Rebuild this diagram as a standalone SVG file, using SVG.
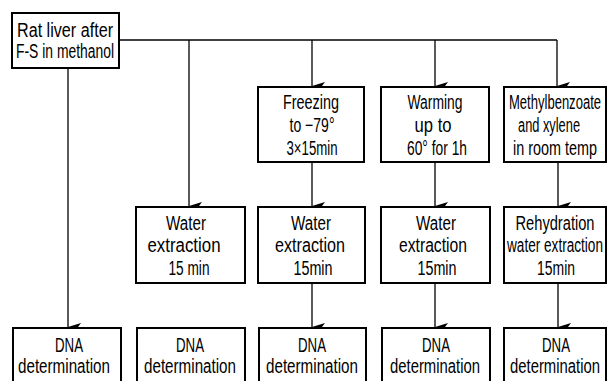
<svg xmlns="http://www.w3.org/2000/svg" width="612" height="381" viewBox="0 0 612 381">
<style>
.box{fill:#fff;stroke:#000;stroke-width:2}
.t{font-family:"Liberation Sans",Arial,sans-serif;font-size:20px;fill:#000;text-anchor:middle}
.c{fill:none;stroke:#000;stroke-width:1.3}
</style>
<defs>
<marker id="ah" markerUnits="userSpaceOnUse" markerWidth="10" markerHeight="14" refX="4" refY="13" orient="auto-start-reverse" viewBox="0 0 8 14">
<path d="M0,0 L4,13 L8,0 L4,3 Z" fill="#000"/>
</marker>
</defs>
<rect width="612" height="381" fill="#fff"/>
<g id="connectors">
<path class="c" d="M119,40 H557"/>
<path class="c" d="M68,68 V327" marker-end="url(#ah)"/>
<path class="c" d="M189,40 V206" marker-end="url(#ah)"/>
<path class="c" d="M312,40 V86" marker-end="url(#ah)"/>
<path class="c" d="M312,162 V206" marker-end="url(#ah)"/>
<path class="c" d="M312,283 V327" marker-end="url(#ah)"/>
<path class="c" d="M435,40 V86" marker-end="url(#ah)"/>
<path class="c" d="M435,162 V206" marker-end="url(#ah)"/>
<path class="c" d="M435,283 V327" marker-end="url(#ah)"/>
<path class="c" d="M557,40 V86" marker-end="url(#ah)"/>
<path class="c" d="M558,162 V206" marker-end="url(#ah)"/>
<path class="c" d="M558,283 V327" marker-end="url(#ah)"/>
</g>
<g id="rat">
<rect class="box" x="12" y="13" width="107" height="55"/>
<text class="t" transform="translate(65,37) scale(.68,1)" textLength="141.2" lengthAdjust="spacingAndGlyphs">Rat liver after</text>
<text class="t" transform="translate(65,58) scale(.68,1)" textLength="144.1" lengthAdjust="spacingAndGlyphs">F-S in methanol</text>
</g>
<g id="freezing">
<rect class="box" x="258" y="87" width="106" height="75"/>
<text class="t" transform="translate(311,109) scale(.68,1)" textLength="82.4" lengthAdjust="spacingAndGlyphs">Freezing</text>
<text class="t" transform="translate(312,132) scale(.68,1)" textLength="66.2" lengthAdjust="spacingAndGlyphs">to −79°</text>
<text class="t" transform="translate(312,155) scale(.68,1)" textLength="75" lengthAdjust="spacingAndGlyphs">3×15min</text>
</g>
<g id="warming">
<rect class="box" x="381" y="87" width="108" height="75"/>
<text class="t" transform="translate(435,109) scale(.68,1)" textLength="80.9" lengthAdjust="spacingAndGlyphs">Warming</text>
<text class="t" transform="translate(433,132) scale(.68,1)" textLength="54.4" lengthAdjust="spacingAndGlyphs">up to</text>
<text class="t" transform="translate(437,155) scale(.68,1)" textLength="88.2" lengthAdjust="spacingAndGlyphs">60° for 1h</text>
</g>
<g id="methyl">
<rect class="box" x="504" y="87" width="102" height="75"/>
<text class="t" transform="translate(555,109) scale(.68,1)" textLength="135.3" lengthAdjust="spacingAndGlyphs">Methylbenzoate</text>
<text class="t" transform="translate(549,132) scale(.68,1)" textLength="91.2" lengthAdjust="spacingAndGlyphs">and xylene</text>
<text class="t" transform="translate(555,155) scale(.68,1)" textLength="123.5" lengthAdjust="spacingAndGlyphs">in room temp</text>
</g>
<g id="water2">
<rect class="box" x="136" y="207" width="109" height="76"/>
<text class="t" transform="translate(186,230) scale(.68,1)" textLength="58.8" lengthAdjust="spacingAndGlyphs">Water</text>
<text class="t" transform="translate(184,252) scale(.68,1)" textLength="107.4" lengthAdjust="spacingAndGlyphs">extraction</text>
<text class="t" transform="translate(189,275) scale(.68,1)" textLength="60.3" lengthAdjust="spacingAndGlyphs">15 min</text>
</g>
<g id="water3">
<rect class="box" x="258" y="207" width="107" height="76"/>
<text class="t" transform="translate(311,230) scale(.68,1)" textLength="58.8" lengthAdjust="spacingAndGlyphs">Water</text>
<text class="t" transform="translate(310,252) scale(.68,1)" textLength="102.9" lengthAdjust="spacingAndGlyphs">extraction</text>
<text class="t" transform="translate(313,275) scale(.68,1)" textLength="57.4" lengthAdjust="spacingAndGlyphs">15min</text>
</g>
<g id="water4">
<rect class="box" x="381" y="207" width="109" height="76"/>
<text class="t" transform="translate(436,230) scale(.68,1)" textLength="58.8" lengthAdjust="spacingAndGlyphs">Water</text>
<text class="t" transform="translate(433,252) scale(.68,1)" textLength="100" lengthAdjust="spacingAndGlyphs">extraction</text>
<text class="t" transform="translate(437,275) scale(.68,1)" textLength="57.4" lengthAdjust="spacingAndGlyphs">15min</text>
</g>
<g id="rehydration">
<rect class="box" x="504" y="207" width="102" height="76"/>
<text class="t" transform="translate(555,230) scale(.68,1)" textLength="116.2" lengthAdjust="spacingAndGlyphs">Rehydration</text>
<text class="t" transform="translate(555,252) scale(.68,1)" textLength="141" lengthAdjust="spacingAndGlyphs">water extraction</text>
<text class="t" transform="translate(556,275) scale(.68,1)" textLength="55.9" lengthAdjust="spacingAndGlyphs">15min</text>
</g>
<g id="dna1">
<rect class="box" x="13" y="328" width="108" height="60"/>
<text class="t" transform="translate(69,352) scale(.68,1)" textLength="41.2" lengthAdjust="spacingAndGlyphs">DNA</text>
<text class="t" transform="translate(64,373) scale(.68,1)" textLength="135.3" lengthAdjust="spacingAndGlyphs">determination</text>
</g>
<g id="dna2">
<rect class="box" x="137" y="328" width="108" height="60"/>
<text class="t" transform="translate(190,352) scale(.68,1)" textLength="41.2" lengthAdjust="spacingAndGlyphs">DNA</text>
<text class="t" transform="translate(190,373) scale(.68,1)" textLength="135.3" lengthAdjust="spacingAndGlyphs">determination</text>
</g>
<g id="dna3">
<rect class="box" x="259" y="328" width="107" height="60"/>
<text class="t" transform="translate(312,352) scale(.68,1)" textLength="41.2" lengthAdjust="spacingAndGlyphs">DNA</text>
<text class="t" transform="translate(312,373) scale(.68,1)" textLength="135.3" lengthAdjust="spacingAndGlyphs">determination</text>
</g>
<g id="dna4">
<rect class="box" x="382" y="328" width="108" height="60"/>
<text class="t" transform="translate(436,352) scale(.68,1)" textLength="41.2" lengthAdjust="spacingAndGlyphs">DNA</text>
<text class="t" transform="translate(435,373) scale(.68,1)" textLength="132.4" lengthAdjust="spacingAndGlyphs">determination</text>
</g>
<g id="dna5">
<rect class="box" x="504" y="328" width="102" height="60"/>
<text class="t" transform="translate(556,352) scale(.68,1)" textLength="41.2" lengthAdjust="spacingAndGlyphs">DNA</text>
<text class="t" transform="translate(555,373) scale(.68,1)" textLength="132.4" lengthAdjust="spacingAndGlyphs">determination</text>
</g>
</svg>
